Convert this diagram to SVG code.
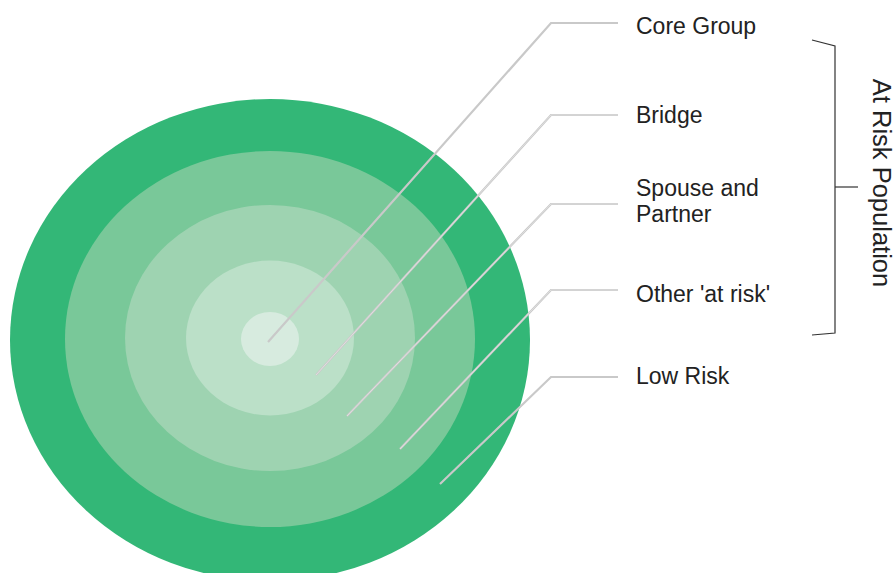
<svg xmlns="http://www.w3.org/2000/svg" width="896" height="573" viewBox="0 0 896 573">
<style>
.lbl{font-family:"Liberation Sans",Arial,sans-serif;font-size:23px;fill:#222}
.lead{fill:none;stroke:#c9c9c9;stroke-width:2.2;stroke-linejoin:miter}
.lead2{fill:none;stroke:#e4e4e4;stroke-width:0.8}
.br{fill:none;stroke:#333;stroke-width:1.2}
</style>
<rect width="896" height="573" fill="#ffffff"/>
<g id="rings">
<g id="ring-low"><ellipse cx="270" cy="340" rx="260" ry="241" fill="#33b777"/></g>
<g id="ring-other"><ellipse cx="270" cy="339" rx="205" ry="188" fill="#79c899"/></g>
<g id="ring-spouse"><ellipse cx="270" cy="338" rx="145" ry="133" fill="#9ed3b1"/></g>
<g id="ring-bridge"><ellipse cx="270" cy="338" rx="84" ry="77.5" fill="#bbe0c8"/></g>
<g id="ring-core"><ellipse cx="270" cy="339" rx="29" ry="27" fill="#d7ebdf"/></g>
</g>
<g id="connectors">
<polyline class="lead" points="268,342 551,23 618,23"/>
<polyline class="lead" points="316,375 551,115 618,115"/>
<polyline class="lead2" points="316,375 551,115 618,115"/>
<polyline class="lead" points="347,416 551,204 618,204"/>
<polyline class="lead2" points="347,416 551,204 618,204"/>
<polyline class="lead" points="400,449 551,290 618,290"/>
<polyline class="lead2" points="400,449 551,290 618,290"/>
<polyline class="lead" points="440,484 551,377 618,377"/>
</g>
<g id="label-core"><text class="lbl" x="636" y="34">Core Group</text></g>
<g id="label-bridge"><text class="lbl" x="636" y="123">Bridge</text></g>
<g id="label-spouse"><text class="lbl" x="636" y="196">Spouse and</text><text class="lbl" x="636" y="222">Partner</text></g>
<g id="label-other"><text class="lbl" x="636" y="302">Other 'at risk'</text></g>
<g id="label-low"><text class="lbl" x="636" y="384">Low Risk</text></g>
<g id="bracket">
<polyline class="br" points="812,40 835,46 835,333 812,335"/>
<line class="br" x1="835" y1="187" x2="858" y2="187"/>
<text class="lbl" transform="translate(873,183) rotate(90)" text-anchor="middle" style="font-size:25.5px">At Risk Population</text>
</g>
</svg>
